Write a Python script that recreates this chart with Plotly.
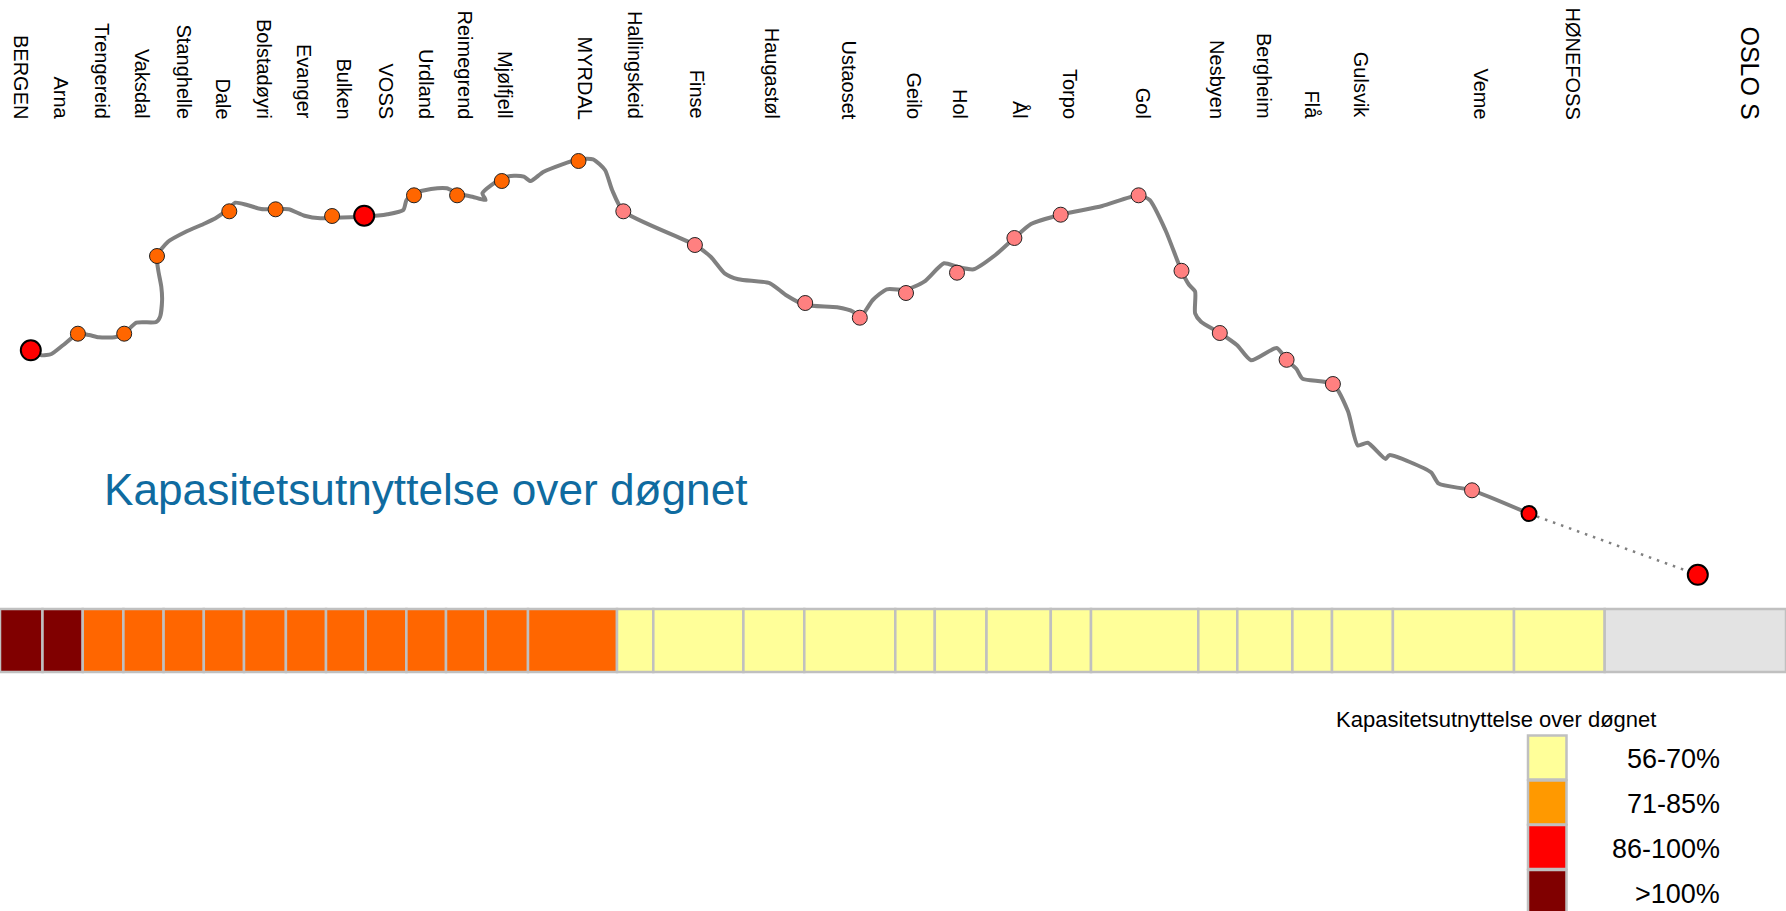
import plotly.graph_objects as go

# Station labels and the horizontal position of each label
label_names = ["BERGEN", "Arna", "Trengereid", "Vaksdal", "Stanghelle", "Dale", "Bolstadøyri", "Evanger",
               "Bulken", "VOSS", "Urdland", "Reimegrend", "Mjølfjell", "MYRDAL", "Hallingskeid", "Finse",
               "Haugastøl", "Ustaoset", "Geilo", "Hol", "Ål", "Torpo", "Gol", "Nesbyen", "Bergheim", "Flå",
               "Gulsvik", "Veme", "HØNEFOSS", "OSLO S"]
label_x = [21, 61, 102, 142, 184, 223, 264, 304.5, 344, 385.5, 426, 465, 505, 585, 635, 697.7, 772.8, 849,
           914, 960, 1020, 1070, 1143.7, 1217.4, 1264, 1312, 1361.7, 1481, 1572.5, 1750]
label_sizes = [20] * 29 + [25]

# Track profile
track_x = [30.8, 41.5, 51.4, 63.3, 77.9, 89, 98.9, 114.7, 124.2, 136.4, 156.2, 160.1, 162.1, 161.3, 158.2,
           157, 168, 185.8, 203.6, 215.5, 229.3, 235.3, 247.1, 261, 275.6, 288.6, 304.5, 320.3, 332.1, 364.2,
           387.5, 403.3, 406.5, 414, 431, 446.8, 457.1, 472.5, 485.6, 482.4, 501.8, 514, 523.9, 530.6, 543.7,
           578.5, 593.1, 605, 612.1, 623.3, 694.9, 710.7, 724.6, 738.4, 770, 785.8, 805.2, 837.2, 853.1,
           859.8, 872.8, 886.7, 906, 924.2, 944, 957, 973.7, 995.4, 1014.4, 1031, 1060.7, 1102.2, 1138.6,
           1149.7, 1165.4, 1181.5, 1189.2, 1195.1, 1195.1, 1201, 1219.8, 1237.2, 1251, 1276.7, 1286.6, 1296.5,
           1302.4, 1332.9, 1347.9, 1357.8, 1367.7, 1385.5, 1389.4, 1430.9, 1438.8, 1472, 1529]
track_y = [350.3, 355.3, 354, 345, 333.7, 335, 337.3, 337.3, 333.7, 322.7, 322, 316.7, 300, 286.7, 270,
           256, 241.7, 231.7, 224, 218.3, 208.3, 202.7, 205, 209, 209.3, 209.3, 215.7, 218.3, 217.7, 216.7,
           214.3, 210, 200, 193.3, 189, 188.3, 193.3, 196.7, 200, 193.3, 178.3, 175.7, 176.7, 181, 171.7,
           159.3, 159.3, 170, 190, 211.3, 245, 256.7, 273.3, 279.3, 283.3, 295, 305, 307.3, 311.7,
           317.7, 300, 289.3, 289.7, 281.7, 263.3, 266.7, 269.3, 255, 238, 224, 214.7, 206, 195.3,
           200, 230, 270.8, 285, 291.5, 313.3, 321.7, 333, 345.3, 360.2, 348, 359.8, 369,
           378.6, 384, 411.1, 445.5, 442.8, 458.9, 455.1, 472.3, 483.7, 490.3, 513.6]
end_x = [1529, 1697.8]
end_y = [513.6, 574.8]

# Stops by class
orange_x = [77.9, 124.2, 157, 229.3, 275.6, 332.1, 414, 457.1, 501.8, 578.5]
orange_y = [333.7, 333.7, 256, 211.3, 209.3, 216, 195.3, 195.3, 181, 161]
pink_x = [623.3, 694.9, 805.2, 859.8, 906, 957, 1014.4, 1060.7, 1138.6, 1181.5, 1219.8, 1286.6, 1332.9, 1472]
pink_y = [211.3, 245, 303, 317.7, 293, 272.7, 238, 214.7, 195.3, 270.8, 333, 359.8, 384, 490.3]
major_x = [30.8, 364.2, 1697.8]
major_y = [350.3, 215.7, 574.8]
minor_x = [1529]
minor_y = [513.6]

# Utilisation strip
cell_edges = [0, 42.5, 82.7, 123.4, 163.6, 203.8, 244, 285.9, 326, 365.7, 406.4, 446, 485.6, 528, 617, 653.3,
              743.4, 804.3, 895.3, 934.8, 986.5, 1050.8, 1091, 1198.3, 1237.3, 1292.4, 1332, 1392.9, 1514,
              1604.7, 1786]
cell_classes = ["over"] * 2 + ["high"] * 12 + ["low"] * 15 + ["none"]
class_colors = {"over": "#800000", "high": "#FF6600", "low": "#FFFF99", "none": "#E3E3E3"}

# Legend
legend_labels = ["56-70%", "71-85%", "86-100%", ">100%"]
legend_colors = ["#FFFF99", "#FF9900", "#FF0000", "#800000"]
legend_rows = [757.5, 802.5, 847, 892]

title_text = "Kapasitetsutnyttelse over døgnet"
FONT = "Liberation Sans, Arial, sans-serif"

fig = go.Figure()

fig.add_trace(go.Scatter(x=track_x, y=track_y, mode="lines",
                         line=dict(color="#808080", width=4, shape="spline", smoothing=0.6), hoverinfo="skip"))
fig.add_trace(go.Scatter(x=end_x, y=end_y, mode="lines",
                         line=dict(color="#808080", width=2.5, dash="2.5px,6px"), hoverinfo="skip"))

cell_widths = [b - a for a, b in zip(cell_edges[:-1], cell_edges[1:])]
fig.add_trace(go.Bar(orientation="h", y=[640.5] * len(cell_widths), x=cell_widths, base=cell_edges[:-1], width=63,
                     marker=dict(color=[class_colors[c] for c in cell_classes],
                                 line=dict(color="#C0C0C0", width=2.5)), hoverinfo="skip"))
fig.add_trace(go.Bar(orientation="h", y=legend_rows, x=[38.5] * 4, base=[1528] * 4, width=44,
                     marker=dict(color=legend_colors, line=dict(color="#C0C0C0", width=2.5)), hoverinfo="skip"))

fig.add_trace(go.Scatter(x=orange_x, y=orange_y, mode="markers",
                         marker=dict(size=15, color="#FF6600", line=dict(color="#222222", width=1)), hoverinfo="skip"))
fig.add_trace(go.Scatter(x=pink_x, y=pink_y, mode="markers",
                         marker=dict(size=15, color="#FF8080", line=dict(color="#222222", width=1)), hoverinfo="skip"))
fig.add_trace(go.Scatter(x=major_x, y=major_y, mode="markers",
                         marker=dict(size=20, color="#FF0000", line=dict(color="#000000", width=2)), hoverinfo="skip"))
fig.add_trace(go.Scatter(x=minor_x, y=minor_y, mode="markers",
                         marker=dict(size=15, color="#FF0000", line=dict(color="#000000", width=2)), hoverinfo="skip"))

annotations = []
for name, x, s in zip(label_names, label_x, label_sizes):
    annotations.append(dict(x=x, y=121, xref="x", yref="y", text=name, showarrow=False, textangle=90,
                            xanchor="center", yanchor="bottom", font=dict(family=FONT, size=s, color="#000000")))
for lab, row in zip(legend_labels, legend_rows):
    annotations.append(dict(x=1722, y=row + 1.5, xref="x", yref="y", text=lab, showarrow=False, xanchor="right",
                            yanchor="middle", font=dict(family=FONT, size=27, color="#000000")))
annotations.append(dict(x=1495.5, y=719, xref="x", yref="y", text=title_text, showarrow=False, xanchor="center",
                        yanchor="middle", font=dict(family=FONT, size=22, color="#000000")))
annotations.append(dict(x=425.5, y=489, xref="x", yref="y", text=title_text, showarrow=False, xanchor="center",
                        yanchor="middle", font=dict(family=FONT, size=44.2, color="#0F6BA0")))

fig.update_layout(width=1786, height=911, margin=dict(l=0, r=0, t=0, b=0), autosize=False,
                  paper_bgcolor="white", plot_bgcolor="white", showlegend=False, barmode="overlay",
                  annotations=annotations)
fig.update_xaxes(range=[0, 1786], visible=False, fixedrange=True)
fig.update_yaxes(range=[911, 0], visible=False, fixedrange=True)
fig.write_html("out.html", config={"displayModeBar": False},
               post_script="document.body.style.margin='0';document.body.style.overflow='hidden';")
